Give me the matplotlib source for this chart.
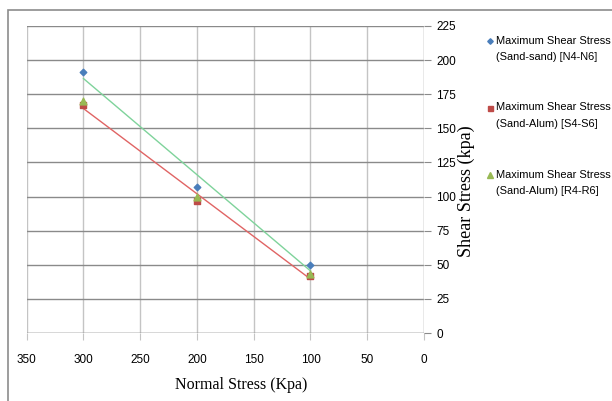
import numpy as np
import matplotlib
matplotlib.use("Agg")
import matplotlib.pyplot as plt
from matplotlib.patches import Rectangle
from matplotlib.lines import Line2D

normal_stress = [300, 200, 100]
sand_sand_N = [191, 107, 50]
sand_alum_S = [167, 97, 42]
sand_alum_R = [170, 100, 43]
x_ticks = [350, 300, 250, 200, 150, 100, 50, 0]
y_ticks = [0, 25, 50, 75, 100, 125, 150, 175, 200, 225]
labels = ["Maximum Shear Stress\n(Sand-sand) [N4-N6]",
          "Maximum Shear Stress\n(Sand-Alum) [S4-S6]",
          "Maximum Shear Stress\n(Sand-Alum) [R4-R6]"]

narrow = ["Liberation Sans Narrow", "Liberation Sans", "DejaVu Sans"]
serif = ["Liberation Serif", "DejaVu Serif"]

W, H = 612, 401
fig = plt.figure(figsize=(6.12, 4.01), dpi=100)
fig.patches.append(Rectangle((8 / W, -0.1), 1.2, (H - 9.5) / H + 0.1,
                             transform=fig.transFigure, fill=False,
                             edgecolor="#8c8c8c", linewidth=1.2))
ax = fig.add_axes([26.7 / W, (H - 333) / H, (424 - 26.7) / W, (333 - 26) / H])
ax.set_xlim(350, 0)
ax.set_ylim(0, 225)
ax.set_xticks(x_ticks)
ax.set_yticks(y_ticks)
ax.yaxis.tick_right()
ax.yaxis.set_label_position("right")
for s in ax.spines.values():
    s.set_visible(False)
ax.grid(True, axis="y", color="#8a8a8a", linewidth=1.0)
ax.grid(True, axis="x", color="#c4c4c4", linewidth=1.0)
ax.axvline(0, color="#c4c4c4", linewidth=1.0)
ax.axhline(0, color="#9a9a9a", linewidth=1.0)
ax.tick_params(axis="y", length=5, color="#8a8a8a", pad=4, labelsize=8.5)
ax.tick_params(axis="x", length=5, color="#c4c4c4", pad=10, labelsize=8.5)
for lab in ax.get_xticklabels() + ax.get_yticklabels():
    lab.set_fontfamily(narrow)

xs = np.array(normal_stress, dtype=float)
for ys, col in [(sand_sand_N, "#7fd39b"), (sand_alum_S, "#e06464")]:
    k, b = np.polyfit(xs, ys, 1)
    xx = np.array([xs.max(), xs.min()])
    ax.plot(xx, k * xx + b, color=col, linewidth=1.0, zorder=3)

styles = [("D", 11, "#4a7ebb"), ("s", 24, "#be4b48"), ("^", 24, "#98b954")]
for ys, (mk, sz, col), z in zip([sand_sand_N, sand_alum_S, sand_alum_R], styles, [4, 4, 5]):
    ax.scatter(normal_stress, ys, marker=mk, s=sz, color=col, zorder=z)

ax.set_xlabel("Normal Stress (Kpa)", fontfamily=serif, fontsize=11.5)
ax.xaxis.set_label_coords((241 - 26.7) / 397.3, (333 - 385) / 307)
ax.xaxis.label.set_va("center")
ax.set_ylabel("Shear Stress (kpa)", fontfamily=serif, fontsize=13)
ax.yaxis.set_label_coords((466 - 26.7) / 397.3, (333 - 191) / 307)
ax.yaxis.label.set_va("center")

# legend (manual layout, marker aligned with first line of each entry)
legend_rows = [41, 107.5, 175]
msizes = [2.8, 3.6, 4.0]
for lab, (mk, sz, col), yy, ms in zip(labels, styles, legend_rows, msizes):
    fig.add_artist(Line2D([490 / W], [(H - yy) / H], marker=mk, markersize=ms,
                          color=col, linestyle="none", transform=fig.transFigure))
    first, second = lab.split("\n")
    fig.text(495.5 / W, (H - yy) / H, first, fontsize=7.9, family=narrow, va="center", ha="left")
    fig.text(495.5 / W, (H - yy - 16.5) / H, second, fontsize=7.9, family=narrow, va="center", ha="left")

fig.savefig("out.png", dpi=100)
